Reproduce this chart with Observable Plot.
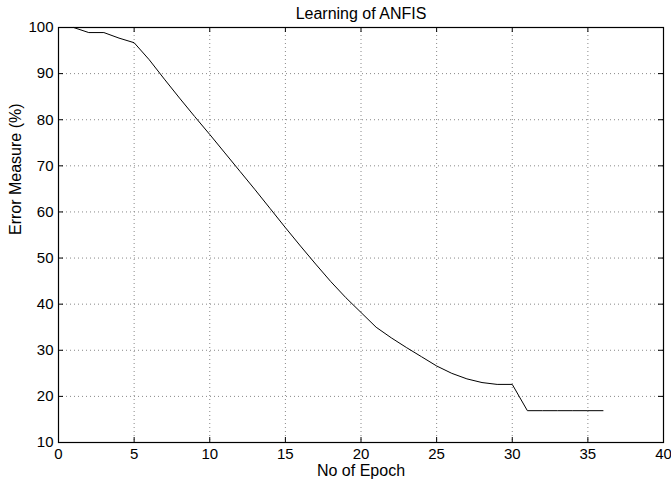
<!DOCTYPE html>
<html>
<head>
<meta charset="utf-8">
<script src="https://cdn.jsdelivr.net/npm/d3@7"></script>
<script src="https://cdn.jsdelivr.net/npm/@observablehq/plot@0.6"></script>
<style>
  html, body { margin: 0; padding: 0; background: #fff; }
  #chart svg { display: block; }
</style>
</head>
<body>
<div id="chart"></div>
<script>
// ---- data ----
const epochs = [1, 2, 3, 4, 5, 6, 7, 8, 9, 10, 11, 12, 13, 14, 15, 16, 17, 18, 19, 20,
                21, 22, 23, 24, 25, 26, 27, 28, 29, 30, 31, 32, 33, 34, 35, 36];
const errorMeasure = [100, 98.9, 98.9, 97.7, 96.7, 93.0, 88.8, 84.7, 80.7, 76.8,
                      72.8, 68.8, 64.8, 60.7, 56.6, 52.6, 48.7, 44.9, 41.4, 38.2,
                      35.0, 32.7, 30.6, 28.6, 26.6, 25.0, 23.8, 23.0, 22.6, 22.6,
                      16.9, 16.9, 16.9, 16.9, 16.9, 16.9];
const xTicks = [0, 5, 10, 15, 20, 25, 30, 35, 40];
const yTicks = [10, 20, 30, 40, 50, 60, 70, 80, 90, 100];
const titleText = "Learning of ANFIS";
const xLabel = "No of Epoch";
const yLabel = "Error Measure (%)";

const rows = epochs.map((e, i) => ({epoch: e, err: errorMeasure[i]}));

// ---- layout ----
const W = 671, H = 483;
const mL = 58, mR = 8, mT = 27, mB = 41;
const plotW = W - mL - mR, plotH = H - mT - mB;
const font = "'Liberation Sans', Arial, Helvetica, sans-serif";
const tickLen = 5;

const chart = Plot.plot({
  width: W,
  height: H,
  marginLeft: mL,
  marginRight: mR,
  marginTop: mT,
  marginBottom: mB,
  style: {fontFamily: font, background: "#fff", color: "#000"},
  x: {domain: [0, 40], ticks: xTicks},
  y: {domain: [10, 100], ticks: yTicks},
  marks: [
    // dotted grid
    Plot.gridX(xTicks, {stroke: "#888", strokeOpacity: 1, strokeDasharray: "1,3", strokeWidth: 1}),
    Plot.gridY(yTicks, {stroke: "#888", strokeOpacity: 1, strokeDasharray: "1,3", strokeWidth: 1}),
    // inward ticks on all four sides
    Plot.tickX(xTicks, {x: d => d, insetTop: plotH - tickLen, stroke: "#000"}),
    Plot.tickX(xTicks, {x: d => d, insetBottom: plotH - tickLen, stroke: "#000"}),
    Plot.tickY(yTicks, {y: d => d, insetRight: plotW - tickLen, stroke: "#000"}),
    Plot.tickY(yTicks, {y: d => d, insetLeft: plotW - tickLen, stroke: "#000"}),
    // tick labels
    Plot.axisX(xTicks, {anchor: "bottom", tickSize: 0, tickPadding: 6, fontSize: 15, label: null}),
    Plot.axisY(yTicks, {anchor: "left", tickSize: 0, tickPadding: 5, fontSize: 15, label: null}),
    // box
    Plot.frame({stroke: "#000", strokeWidth: 1.2}),
    // data line
    Plot.line(rows, {x: "epoch", y: "err", stroke: "#000", strokeWidth: 1}),
    // title and axis labels
    Plot.text([titleText], {frameAnchor: "top", lineAnchor: "bottom", dy: -9, fontSize: 16, fill: "#000"}),
    Plot.text([xLabel], {frameAnchor: "bottom", lineAnchor: "bottom", dy: 33, fontSize: 16, fill: "#000"}),
    Plot.text([yLabel], {frameAnchor: "left", lineAnchor: "bottom", rotate: -90, dx: -38, fontSize: 16, fill: "#000"})
  ]
});

document.getElementById("chart").appendChild(chart);
</script>
</body>
</html>
